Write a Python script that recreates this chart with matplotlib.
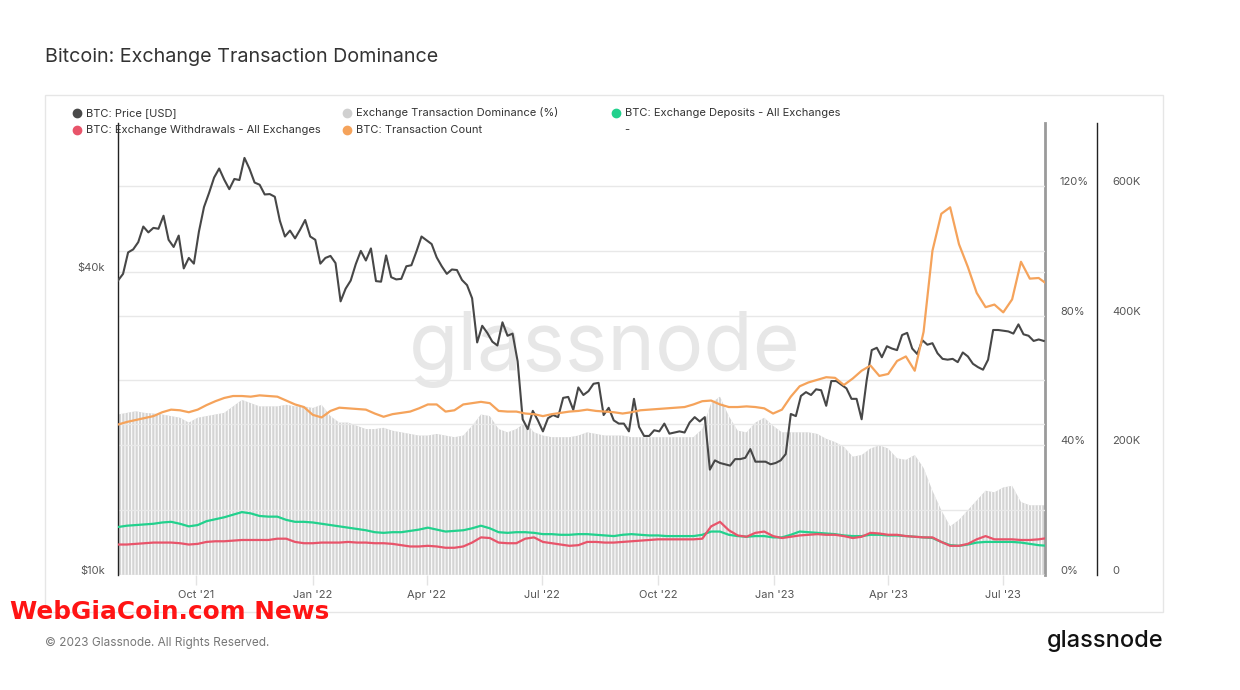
import numpy as np
import pandas as pd
import matplotlib
matplotlib.use('Agg')
import matplotlib.pyplot as plt
import matplotlib.transforms as mtransforms
from matplotlib.lines import Line2D
from matplotlib.patches import Rectangle
from matplotlib.ticker import NullLocator

plt.rcParams['font.family'] = ['Inter', 'DejaVu Sans']
plt.rcParams['hatch.linewidth'] = 0.8
plt.rcParams['hatch.color'] = 'white'

# BTC price, thousands USD, every 4 days from 2021-07-31
price_k = [
    38.5, 39.7, 43.8, 44.4, 45.9, 49.3, 48.0, 49.0, 48.8, 51.8,
    46.4, 44.9, 47.3, 40.7, 42.7, 41.6, 48.2, 53.9, 57.5, 61.7,
    64.3, 61.1, 58.5, 61.3, 61.0, 67.5, 64.2, 60.3, 59.7, 57.1,
    57.2, 56.5, 50.6, 47.1, 48.4, 46.7, 48.6, 50.8, 47.1, 46.4,
    41.6, 42.7, 43.1, 41.7, 35.0, 37.1, 38.5, 41.5, 44.1, 42.2,
    44.6, 38.4, 38.3, 43.2, 39.1, 38.7, 38.8, 41.1, 41.3, 44.0,
    47.1, 46.3, 45.5, 42.8, 41.1, 39.7, 40.5, 40.4, 38.6, 37.7,
    35.5, 29.0, 31.3, 30.3, 29.1, 28.6, 31.8, 29.9, 30.2, 26.6,
    20.4, 19.5, 21.2, 20.3, 19.3, 20.5, 20.8, 20.6, 22.5, 22.6,
    21.3, 23.6, 22.8, 23.2, 24.0, 24.1, 20.8, 21.5, 20.3, 20.0,
    20.0, 19.3, 22.4, 19.7, 18.9, 18.9, 19.4, 19.3, 20.0, 19.1,
    19.2, 19.3, 19.2, 20.1, 20.6, 20.2, 20.6, 16.2, 16.9, 16.7,
    16.6, 16.5, 17.0, 17.0, 17.1, 17.8, 16.8, 16.8, 16.8, 16.6,
    16.7, 16.9, 17.4, 20.9, 20.7, 22.7, 23.1, 22.8, 23.4, 23.3,
    21.7, 24.3, 24.3, 23.9, 23.5, 22.4, 22.4, 20.4, 24.4, 28.0,
    28.3, 27.1, 28.5, 28.2, 28.0, 30.0, 30.3, 28.2, 27.5, 29.3,
    28.7, 28.9, 27.6, 26.9, 26.8, 26.9, 26.5, 27.7, 27.2, 26.3,
    25.9, 25.6, 26.8, 30.7, 30.7, 30.6, 30.5, 30.2, 31.5, 30.1,
    29.9, 29.2, 29.4, 29.2,
]

# weekly series from 2021-07-31
dominance_pct = [
    49.5, 50, 50.5, 50, 49.8, 49.5, 49, 48.5, 47, 48.5,
    49, 49.5, 50, 52, 54, 53, 52, 52, 52, 52.5,
    52, 52, 51.5, 52.5, 49, 47, 47, 46, 45, 45,
    45.4, 44.5, 44, 43.5, 43, 43, 43.5, 43, 42.5, 43,
    46, 49.5, 49, 45, 44, 45, 47, 44, 43, 42.5,
    42.5, 42.5, 43, 44, 43.5, 43, 43, 43, 42.5, 42.5,
    42.5, 42.5, 42.5, 42.5, 42.5, 42.5, 45, 53, 55, 49,
    44.5, 44, 47, 48.5, 46, 44, 44, 44, 44, 43.5,
    42, 41, 39.5, 36.5, 37, 39, 40, 39, 36, 35.5,
    37, 33, 26, 20, 15, 17, 20, 23, 26, 25.5,
    27, 27.5, 22.5, 21.5, 21.5, 21.5,
]
tx_count_k = [
    232, 236, 239, 242, 245, 251, 255, 254, 251, 255,
    262, 268, 273, 276, 276, 275, 277, 276, 275, 269,
    263, 259, 247, 243, 253, 258, 257, 256, 255, 249,
    244, 248, 250, 252, 257, 263, 263, 252, 254, 263,
    265, 267, 265, 253, 252, 252, 249, 248, 245, 248,
    250, 252, 253, 255, 253, 252, 251, 249, 251, 254,
    255, 256, 257, 258, 259, 263, 268, 269, 263, 259,
    259, 260, 259, 257, 249, 255, 275, 291, 297, 301,
    305, 304, 293, 303, 315, 323, 307, 310, 330, 337,
    315, 375, 500, 557, 567, 510, 475, 435, 413, 417,
    405, 425, 483, 457, 458, 448,
]
deposits_k = [
    74, 76, 77, 78, 79, 81, 82, 79, 75, 77,
    83, 86, 89, 93, 97, 95, 91, 90, 90, 85,
    82, 82, 81, 79, 77, 75, 73, 71, 69, 66,
    65, 66, 66, 68, 70, 73, 70, 67, 68, 69,
    72, 76, 72, 66, 65, 66, 66, 65, 63, 63,
    62, 62, 63, 63, 62, 61, 60, 62, 63, 62,
    61, 61, 60, 60, 60, 60, 62, 67, 67, 62,
    60, 59, 60, 60, 58, 58, 62, 67, 66, 65,
    64, 63, 61, 60, 60, 62, 62, 61, 61, 60,
    59, 58, 57, 51, 46, 45, 47, 50, 51, 51,
    51, 51, 50, 48, 46, 45,
]
withdrawals_k = [
    47, 47, 48, 49, 50, 50, 50, 49, 47, 48,
    51, 52, 52, 53, 54, 54, 54, 54, 56, 56,
    51, 49, 49, 50, 50, 50, 51, 50, 50, 49,
    49, 48, 46, 44, 44, 45, 44, 42, 42, 44,
    50, 58, 57, 50, 49, 49, 56, 58, 51, 49,
    47, 45, 46, 51, 51, 50, 50, 51, 52, 53,
    54, 55, 55, 55, 55, 55, 56, 75, 82, 69,
    61, 59, 65, 67, 60, 57, 59, 61, 62, 63,
    62, 62, 60, 57, 59, 65, 64, 62, 62, 60,
    59, 58, 58, 51, 45, 45, 48, 55, 60, 55,
    55, 55, 54, 54, 55, 57,
]

tick_dates = ['2021-10-01', '2022-01-01', '2022-04-01', '2022-07-01',
              '2022-10-01', '2023-01-01', '2023-04-01', '2023-07-01']
tick_labels = ["Oct '21", "Jan '22", "Apr '22", "Jul '22",
               "Oct '22", "Jan '23", "Apr '23", "Jul '23"]

dates_4d = pd.date_range('2021-07-31', periods=len(price_k), freq='4D')
dates_w = pd.date_range('2021-07-31', periods=len(dominance_pct), freq='7D')

W, H = 1240, 690
def fx(px):
    return px / W
def fy(py):
    return 1 - py / H

fig = plt.figure(figsize=(W / 100, H / 100), dpi=100)
fig.patch.set_facecolor('white')

# panel border
fig.add_artist(Rectangle((fx(45), fy(612)), fx(1163) - fx(45), fy(95) - fy(612),
                         transform=fig.transFigure, fill=False,
                         edgecolor='#e6e6e6', lw=1))

ax = fig.add_axes([fx(118), fy(575), fx(1045) - fx(118), fy(123) - fy(575)])
ax_price = ax.twinx()
ax_cnt = ax.twinx()

# dominance bars (striped area)
ax.fill_between(dates_w, 0, dominance_pct, facecolor='#d4d4d4',
                edgecolor='white', hatch='|||||', linewidth=0, zorder=1)
ax.set_ylim(0, 139.4)
ax.set_yticks([0, 20, 40, 60, 80, 100, 120])
ax.set_yticklabels(['0%', '', '40%', '', '80%', '', '120%'])
ax.yaxis.tick_right()
ax.grid(axis='y', color='#e8e8e8', lw=1)
ax.set_axisbelow(False)
ax.text(0.525, 0.5, 'glassnode', transform=ax.transAxes, ha='center',
        va='center', fontsize=58, color='#e7e7e7', zorder=0)

# price
ax_price.plot(dates_4d, price_k, color='#474747', lw=1.5, zorder=3)
ax_price.set_yscale('log')
ax_price.set_ylim(10, 79.2)
ax_price.set_yticks([10, 20, 40])
ax_price.set_yticklabels(['$10k', '', '$40k'])
ax_price.yaxis.set_minor_locator(NullLocator())
ax_price.yaxis.tick_left()
ax_price.grid(axis='y', color='#e8e8e8', lw=1, zorder=0)

# counts
ax_cnt.plot(dates_w, deposits_k, color='#22d18d', lw=1.6)
ax_cnt.plot(dates_w, withdrawals_k, color='#e8546a', lw=1.6)
ax_cnt.plot(dates_w, tx_count_k, color='#f5a35b', lw=1.6)
ax_cnt.set_ylim(0, 697)
ax_cnt.set_yticks([0, 200, 400, 600])
ax_cnt.set_yticklabels(['0', '200K', '400K', '600K'])

ax.set_xlim(pd.Timestamp('2021-07-31'), pd.Timestamp('2023-08-03'))
ax.set_xticks(pd.to_datetime(tick_dates))
ax.set_xticklabels(tick_labels)
ax.tick_params(axis='x', length=7.2, width=1, color='#e3e3e3',
               labelsize=8, labelcolor='#555555', pad=3.5)

ax.tick_params(axis='y', length=0, pad=10.8, labelsize=8, labelcolor='#555555')
ax_price.tick_params(axis='y', length=0, pad=9.4, labelsize=8, labelcolor='#555555')
ax_cnt.tick_params(axis='y', length=0, pad=10.8, labelsize=8, labelcolor='#555555')

for a in (ax, ax_price, ax_cnt):
    for s in a.spines.values():
        s.set_visible(False)
ax.spines['right'].set_visible(True)
ax.spines['right'].set_color('#9a9a9a')
ax.spines['right'].set_linewidth(2)
ax_price.spines['left'].set_visible(True)
ax_price.spines['left'].set_color('#222222')
ax_price.spines['left'].set_linewidth(1)
ax_cnt.spines['right'].set_visible(True)
ax_cnt.spines['right'].set_color('#222222')
ax_cnt.spines['right'].set_linewidth(1)
ax_cnt.spines['right'].set_position(('outward', 37.4))

# y labels sit a little above their gridlines
up = mtransforms.ScaledTranslation(0, 5 / 100, fig.dpi_scale_trans)
for a in (ax, ax_price, ax_cnt):
    for lbl in a.get_yticklabels():
        lbl.set_transform(lbl.get_transform() + up)

# legend
legend_items = [
    (77, 113, '#4a4a4a', 'BTC: Price [USD]'),
    (347, 113, '#d0d0d0', 'Exchange Transaction Dominance (%)'),
    (616, 113, '#22d18d', 'BTC: Exchange Deposits - All Exchanges'),
    (77, 130, '#e8546a', 'BTC: Exchange Withdrawals - All Exchanges'),
    (347, 130, '#f5a35b', 'BTC: Transaction Count'),
]
for xm, ym, c, lab in legend_items:
    fig.add_artist(Line2D([fx(xm)], [fy(ym)], marker='o', markersize=6,
                          color=c, linestyle='none', transform=fig.transFigure))
    fig.text(fx(xm + 9), fy(ym), lab, ha='left', va='center', fontsize=8,
             color='#333333')
fig.text(fx(624), fy(130), '-', ha='left', va='center', fontsize=8, color='#333333')

fig.text(fx(45), fy(57), 'Bitcoin: Exchange Transaction Dominance', ha='left',
         va='center', fontsize=14.2, color='#333333')
fig.text(fx(45), fy(643), '\u00a9 2023 Glassnode. All Rights Reserved.', ha='left',
         va='center', fontsize=8.5, color='#777777')
fig.text(fx(1163), fy(641), 'glassnode', ha='right', va='center', fontsize=17,
         color='#111111', weight='medium')

wm = fig.text(fx(10), fy(612), 'WebGiaCoin.com News', ha='left', va='center',
              fontsize=24, color='#ff1414', weight='bold',
              family=['Liberation Sans Narrow', 'DejaVu Sans'])
renderer = fig.canvas.get_renderer()
w = wm.get_window_extent(renderer).width
wm.set_fontsize(24 * 318 / w)

fig.savefig('out.png', dpi=100, facecolor='white')
